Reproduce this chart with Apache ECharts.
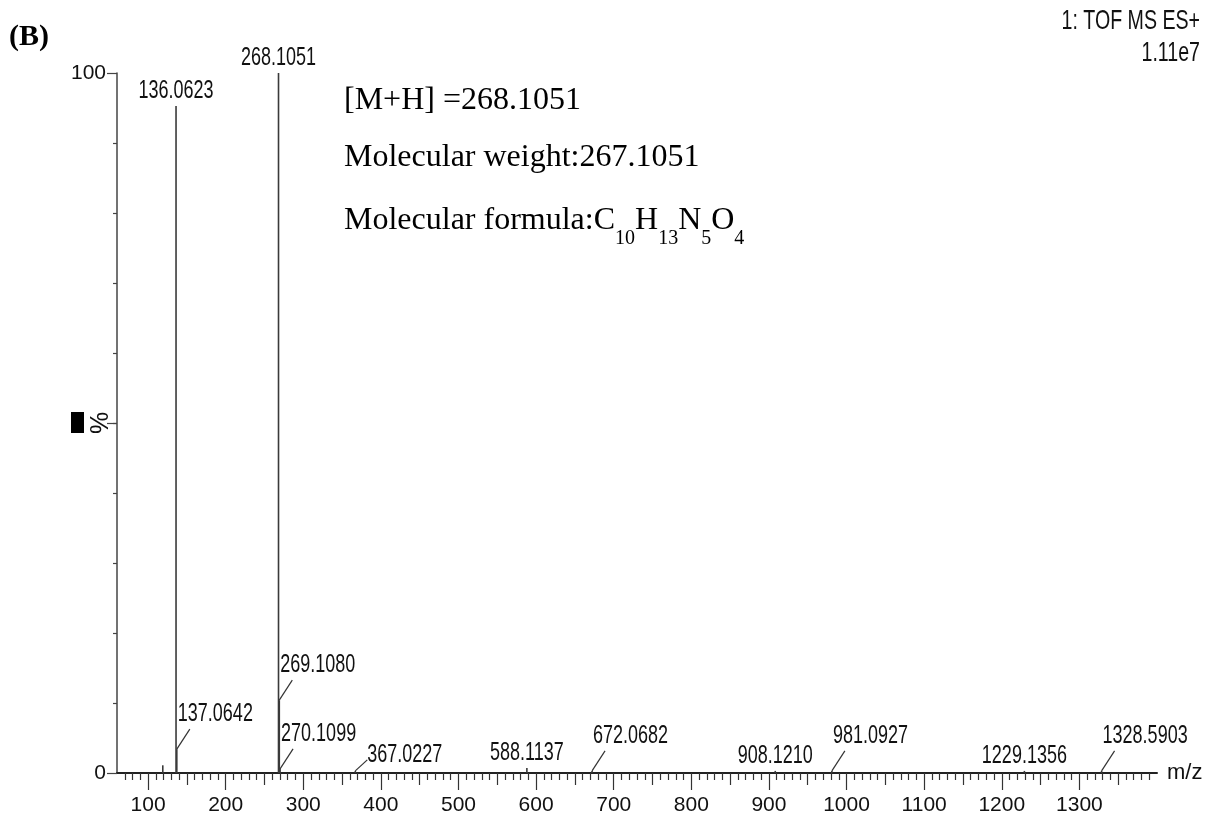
<!DOCTYPE html>
<html><head><meta charset="utf-8">
<script src="https://cdn.jsdelivr.net/npm/echarts@6/dist/echarts.min.js"></script>
<style>html,body{margin:0;padding:0;background:#fff}#c{width:1211px;height:823px}</style>
</head><body><div id="c"></div>
<script>
// ---- data ----
const peakMz = [119.0, 136.0623, 137.0642, 268.1051, 269.1080, 270.1099, 367.0227, 588.1137, 672.0682, 908.1210, 981.0927, 1229.1356, 1328.5903];
const peakIntensity = [1.1, 95.3, 3.4, 100, 10.4, 0.6, 0.3, 0.7, 0.3, 0.3, 0.3, 0.3, 0.3];
const peakLabels = ['', '136.0623', '137.0642', '268.1051', '269.1080', '270.1099', '367.0227', '588.1137', '672.0682', '908.1210', '981.0927', '1229.1356', '1328.5903'];
const xTickLabels = [100, 200, 300, 400, 500, 600, 700, 800, 900, 1000, 1100, 1200, 1300];
const yTickLabels = [0, 100];
const headerLines = ['1: TOF MS ES+', '1.11e7'];
const annotationLines = ['[M+H] =268.1051', 'Molecular weight:267.1051'];
const formulaPrefix = 'Molecular formula:';
const formulaParts = [['C', '10'], ['H', '13'], ['N', '5'], ['O', '4']];
const panelTag = '(B)';
const xName = 'm/z';
const yName = '%';

// ---- styling ----
const SANS = "'Liberation Sans',Arial,sans-serif";
const SERIF = "'Liberation Serif','Times New Roman',serif";
const INK = '#111';
const NARROW_K = 0.72; // horizontal squeeze to imitate the narrow instrument font
const leaderLabels = new Set(['137.0642', '269.1080', '270.1099', '367.0227', '672.0682', '981.0927', '1328.5903']);
const shortLeader = new Set(['367.0227']);

function range(a, b, s) { const r = []; for (let v = a; v <= b + 1e-9; v += s) r.push(v); return r; }
const minorTicks = range(70, 1390, 10).filter(v => v % 50 !== 0);
const midTicks = range(150, 1350, 100);
const majorTicks = range(100, 1300, 100);

const chart = echarts.init(document.getElementById('c'));

const baseX = { type: 'value', min: 60, max: 1400, position: 'bottom', splitLine: { show: false } };
const baseY = { type: 'value', min: 0, max: 100, position: 'left', splitLine: { show: false } };

const richMain = { fontSize: 32, fontFamily: SERIF, lineHeight: 36, verticalAlign: 'top', color: INK };
const richSub = { fontSize: 20, fontFamily: SERIF, lineHeight: 20, padding: [24, 0, 0, 0], verticalAlign: 'top', color: INK };

const formulaText = '{m|' + formulaPrefix + '}' + formulaParts.map(p => '{m|' + p[0] + '}{s|' + p[1] + '}').join('');

chart.setOption({
  animation: false,
  backgroundColor: '#fff',
  grid: { left: 117, right: 54, top: 73, bottom: 50, containLabel: false },
  xAxis: [
    Object.assign({}, baseX, {
      axisLine: { show: true, lineStyle: { color: '#222', width: 2 } },
      axisTick: { show: true, customValues: minorTicks, length: 7, lineStyle: { color: '#333', width: 1.2 } },
      axisLabel: { show: true, customValues: xTickLabels, formatter: v => String(v), margin: 22, fontSize: 21, fontFamily: SANS, color: INK },
      name: xName, nameLocation: 'end', nameGap: 10, nameMoveOverlap: false,
      nameTextStyle: { fontSize: 22, fontFamily: SANS, color: INK, verticalAlign: 'middle', padding: [10, 0, 0, 0] }
    }),
    Object.assign({}, baseX, {
      axisLine: { show: false },
      axisTick: { show: true, customValues: midTicks, length: 12, lineStyle: { color: '#333', width: 1.2 } },
      axisLabel: { show: false }
    }),
    Object.assign({}, baseX, {
      axisLine: { show: false },
      axisTick: { show: true, customValues: majorTicks, length: 17, lineStyle: { color: '#333', width: 1.2 } },
      axisLabel: { show: false }
    })
  ],
  yAxis: [
    Object.assign({}, baseY, {
      axisLine: { show: true, lineStyle: { color: '#444', width: 1.5 } },
      axisTick: { show: true, customValues: range(10, 90, 10), length: 4, lineStyle: { color: '#444', width: 1.2 } },
      axisLabel: { show: true, customValues: yTickLabels, formatter: v => String(v), margin: 11, fontSize: 21, fontFamily: SANS, color: INK },
      name: yName, nameLocation: 'middle', nameRotate: 90, nameGap: 3, nameMoveOverlap: false,
      nameTextStyle: { fontSize: 25, fontFamily: SANS, color: INK }
    }),
    Object.assign({}, baseY, {
      axisLine: { show: false },
      axisTick: { show: true, customValues: [0, 50, 100], length: 10, lineStyle: { color: '#444', width: 1.2 } },
      axisLabel: { show: false }
    })
  ],
  series: [{
    type: 'custom',
    xAxisIndex: 0, yAxisIndex: 0,
    clip: false,
    encode: { x: 0, y: 1 },
    data: peakMz.map((m, i) => [m, peakIntensity[i], i]),
    renderItem: function (params, api) {
      const i = api.value(2);
      const mz = api.value(0), v = api.value(1);
      const base = api.coord([mz, 0]);
      const top = api.coord([mz, v]);
      const children = [{
        type: 'line',
        shape: { x1: base[0], y1: base[1], x2: top[0], y2: top[1] },
        style: { stroke: '#3a3a3a', lineWidth: 1.6 }
      }];
      const lab = peakLabels[i];
      const ts = { fontSize: 25, fontFamily: SANS, fill: INK };
      if (lab) {
        if (leaderLabels.has(lab)) {
          const sh = shortLeader.has(lab);
          const ex = top[0] + (sh ? 12 : 13);
          const ey = top[1] - (sh ? 11 : 20);
          children.push({ type: 'line', shape: { x1: top[0], y1: top[1], x2: ex, y2: ey }, style: { stroke: '#333', lineWidth: 1.2 } });
          children.push({
            type: 'text', x: sh ? ex : top[0] + 1, y: sh ? ey + 7.5 : ey - 2.5, scaleX: NARROW_K,
            style: Object.assign({ text: lab, align: 'left', verticalAlign: 'bottom' }, ts)
          });
        } else {
          children.push({
            type: 'text', x: top[0], y: top[1] - 2.5, scaleX: NARROW_K,
            style: Object.assign({ text: lab, align: 'center', verticalAlign: 'bottom' }, ts)
          });
        }
      }
      return { type: 'group', children: children };
    }
  }],
  graphic: [
    { type: 'text', x: 9, y: 37, style: { text: panelTag, fontSize: 30, fontWeight: 'bold', fontFamily: SERIF, fill: '#000', align: 'left', verticalAlign: 'middle' } },
    { type: 'text', x: 1200, y: 21, scaleX: 0.70, style: { text: headerLines[0], fontSize: 28, fontFamily: SANS, fill: INK, align: 'right', verticalAlign: 'middle' } },
    { type: 'text', x: 1200, y: 53, scaleX: 0.70, style: { text: headerLines[1], fontSize: 28, fontFamily: SANS, fill: INK, align: 'right', verticalAlign: 'middle' } },
    { type: 'rect', shape: { x: 71, y: 412, width: 13, height: 21 }, style: { fill: '#000' } },
    { type: 'text', x: 344, y: 85, style: { text: '{m|' + annotationLines[0] + '}', rich: { m: richMain }, align: 'left', verticalAlign: 'top' } },
    { type: 'text', x: 344, y: 142, style: { text: '{m|' + annotationLines[1] + '}', rich: { m: richMain }, align: 'left', verticalAlign: 'top' } },
    { type: 'text', x: 344, y: 205, style: { text: formulaText, rich: { m: richMain, s: richSub }, align: 'left', verticalAlign: 'top' } }
  ]
});
</script>
</body></html>
